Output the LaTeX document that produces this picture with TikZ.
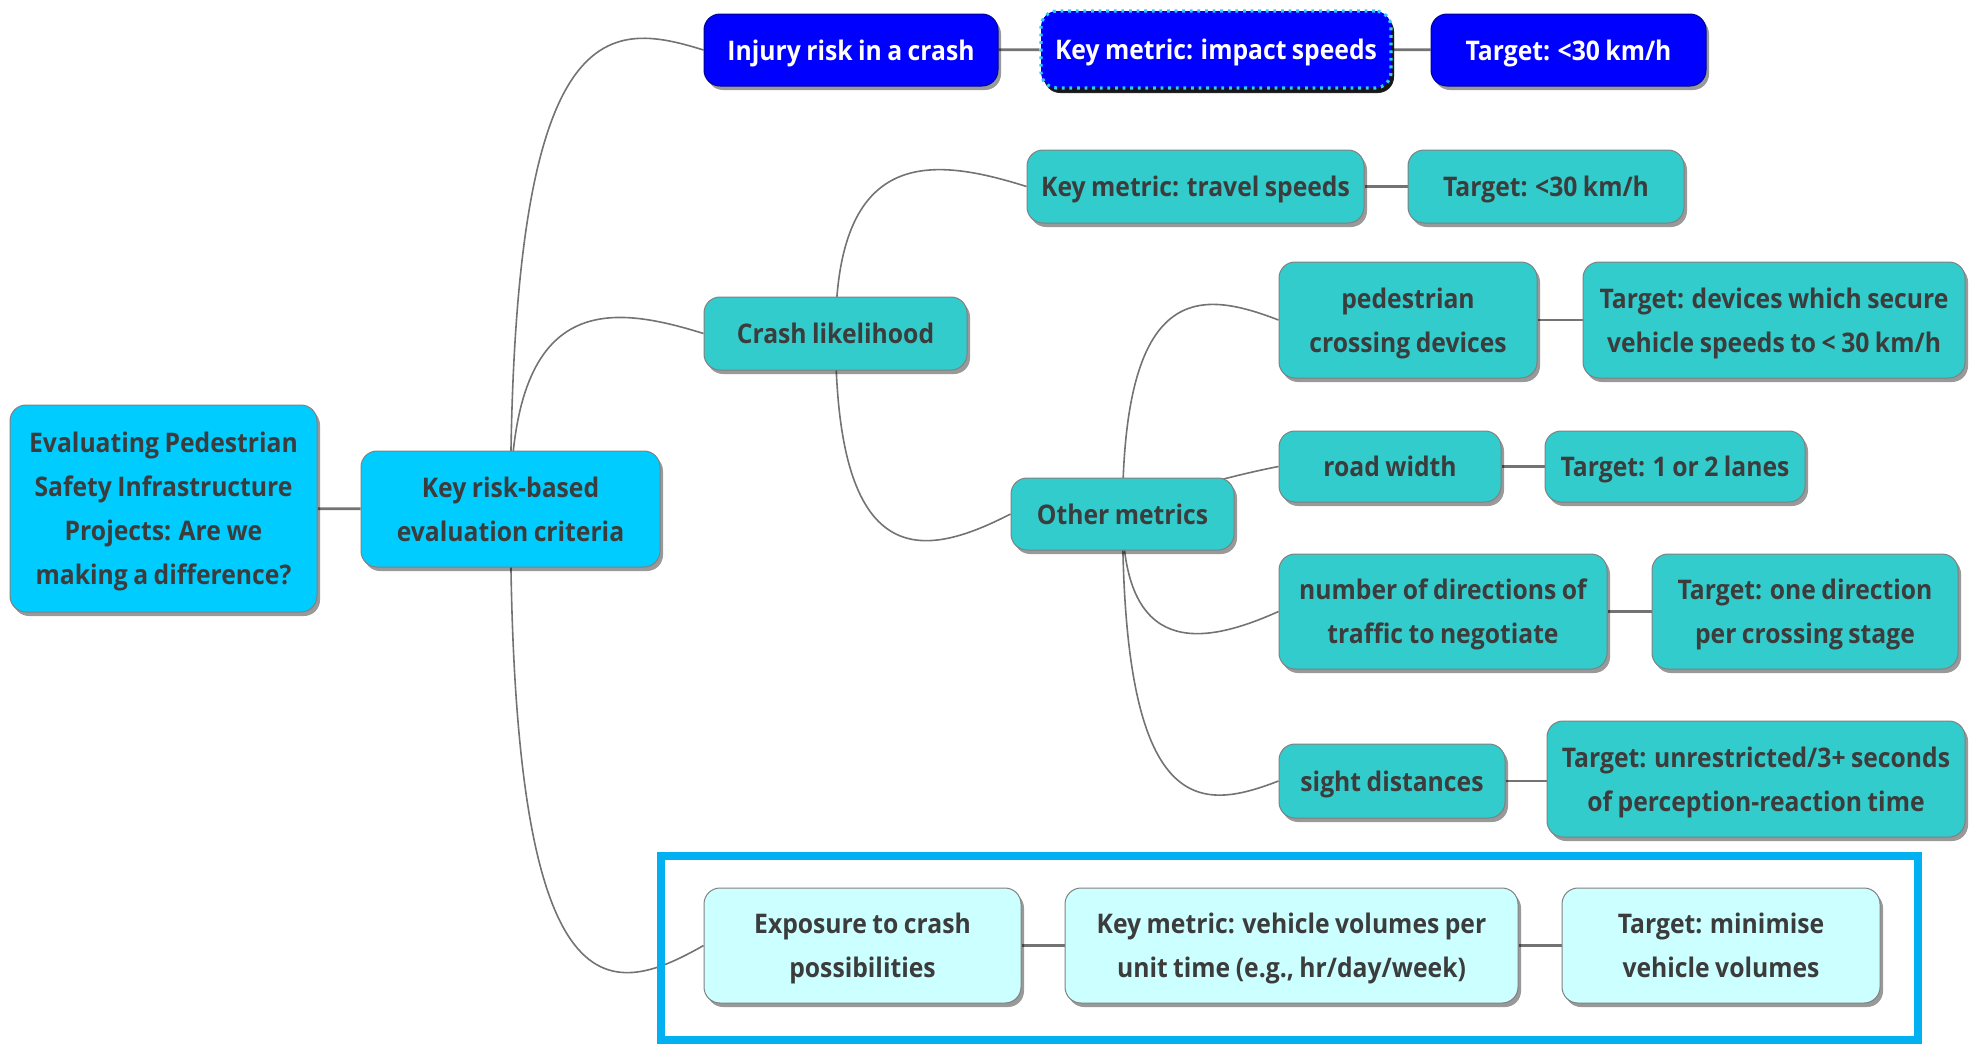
\documentclass[tikz,border=0pt]{standalone}
\usepackage{fontspec}
\setmainfont{Open Sans}[FakeStretch=0.915, WordSpace=0.85]
\usetikzlibrary{shadows,calc,backgrounds}
\definecolor{cblue}{HTML}{0000FF}
\definecolor{ccyan}{HTML}{00CCFF}
\definecolor{cteal}{HTML}{33CCCC}
\definecolor{clight}{HTML}{CCFFFF}
\definecolor{ctext}{HTML}{3C3C3C}
\definecolor{cframe}{HTML}{00B0F0}
\definecolor{cdots}{HTML}{33CCFF}
\tikzset{
  sz/.style 2 args={minimum width=#1*0.5pt, minimum height=#2*0.5pt},
  base/.style={rectangle, rounded corners=8pt, align=center, inner sep=0pt,
    font=\bfseries\fontsize{13.5}{22}\selectfont, text=ctext,
    text depth=0pt,
    draw=black!50, line width=0.5pt,
    drop shadow={shadow xshift=1.5pt, shadow yshift=-2pt, opacity=0.4, fill=black}},
  bluebox/.style={base, fill=cblue, text=white, draw=cblue!60!black},
  dotbox/.style={base, fill=cblue, text=white, draw=cdots, line width=1.6pt,
    dash pattern=on 1.4pt off 2.4pt,
    drop shadow={shadow xshift=1.5pt, shadow yshift=-2.5pt, opacity=0.85, fill=black}},
  cyanbox/.style={base, fill=ccyan},
  tealbox/.style={base, fill=cteal},
  lightbox/.style={base, fill=clight},
  link/.style={draw=black!55, line width=0.8pt},
  slink/.style={draw=black!55, line width=1.4pt},
  hlframe/.style={draw=cframe, line width=4pt}
}
% #1 parent, #2 child, #3 and #4 overshoot of the two control points
\newcommand\upcurve[4]{%
  \draw[link] (#1.center) .. controls ($(#1.center |- #2.west)+(0,-#3)$)
    and ($(#1.center |- #2.west)!0.5!(#2.west)+(0,-#4)$) .. (#2.west);}
\newcommand\downcurve[4]{%
  \draw[link] (#1.center) .. controls ($(#1.center |- #2.west)+(0,#3)$)
    and ($(#1.center |- #2.west)!0.5!(#2.west)+(0,#4)$) .. (#2.west);}
\begin{document}
\begin{tikzpicture}[x=0.5pt, y=-0.5pt]
\useasboundingbox (0,0) rectangle (1974,1045);

% highlight frame
\draw[hlframe] (661,856) rectangle (1918,1040);

% nodes
\node[cyanbox, sz={307}{207}] (root) at (163.5,508.5)
  {Evaluating Pedestrian\\Safety Infrastructure\\Projects: Are we\\making a difference?};
\node[cyanbox, sz={299}{116}] (keyrisk) at (510.5,509)
  {Key risk-based\\evaluation criteria};

\node[bluebox, sz={294}{72}] (injury) at (851,50) {Injury risk in a crash};
\node[dotbox, sz={350}{77}] (impact) at (1216,49.5) {Key metric: impact speeds};
\node[bluebox, sz={275}{72}] (ttop) at (1568.5,50) {Target: <30 km/h};

\node[tealbox, sz={263}{73}] (crash) at (835.5,333.5) {Crash likelihood};
\node[tealbox, sz={337}{73}] (travel) at (1195.5,186.5) {Key metric: travel speeds};
\node[tealbox, sz={276}{73}] (ttravel) at (1546,186.5) {Target: <30 km/h};

\node[tealbox, sz={223}{72}] (other) at (1122.5,514) {Other metrics};
\node[tealbox, sz={258}{116}] (ped) at (1408,320) {pedestrian\\crossing devices};
\node[tealbox, sz={382}{116}] (tdev) at (1774,320)
  {Target: devices which secure\\vehicle speeds to < 30 km/h};
\node[tealbox, sz={222}{71}] (road) at (1390,466.5) {road width};
\node[tealbox, sz={260}{71}] (tlanes) at (1675,466.5) {Target: 1 or 2 lanes};
\node[tealbox, sz={328}{115}] (ndir) at (1443,611.5)
  {number of directions of\\traffic to negotiate};
\node[tealbox, sz={306}{115}] (tdir) at (1805,611.5)
  {Target: one direction\\per crossing stage};
\node[tealbox, sz={226}{74}] (sight) at (1392,781) {sight distances};
\node[tealbox, sz={418}{116}] (tunr) at (1756,779)
  {Target: unrestricted/3+ seconds\\of perception-reaction time};

\node[lightbox, sz={317}{115}] (expo) at (862.5,945.5)
  {Exposure to crash\\possibilities};
\node[lightbox, sz={453}{115}] (vol) at (1291.5,945.5)
  {Key metric: vehicle volumes per\\unit time (e.g., hr/day/week)};
\node[lightbox, sz={318}{115}] (tmin) at (1721,945.5)
  {Target: minimise\\vehicle volumes};

% connectors
\begin{pgfonlayer}{background}
\draw[slink] (root) -- (keyrisk);
\draw[slink] (injury) -- (impact);
\draw[slink] (impact) -- (ttop);
\draw[slink] (travel) -- (ttravel);
\draw[slink] (ped) -- (tdev);
\draw[slink] (road) -- (tlanes);
\draw[slink] (ndir) -- (tdir);
\draw[slink] (sight.east) -- (sight.east -| tunr.west);
\draw[slink] (expo) -- (vol);
\draw[slink] (vol) -- (tmin);

\upcurve{keyrisk}{injury}{40}{30}
\upcurve{keyrisk}{crash}{40}{30}
\downcurve{keyrisk}{expo}{75}{55}
\upcurve{crash}{travel}{40}{30}
\downcurve{crash}{other}{60}{45}
\upcurve{other}{ped}{40}{30}
\draw[link] (other.center) .. controls ($(other.center |- road.west)+(0,40)$)
  and ($(other.center |- road.west)!0.6!(road.west)+(0,12)$) .. (road.west);
\downcurve{other}{ndir}{45}{35}
\downcurve{other}{sight}{40}{30}
\end{pgfonlayer}
\end{tikzpicture}
\end{document}
